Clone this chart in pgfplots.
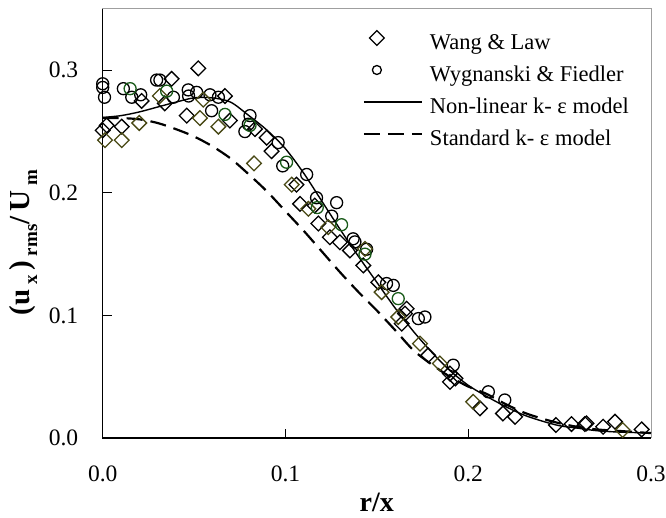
\documentclass[border=0pt]{standalone}
\usepackage{pgfplots}
\pgfplotsset{compat=1.18}
\usepackage{fontspec}
\setmainfont{Liberation Serif}

\definecolor{olivemark}{RGB}{72,72,20}
\definecolor{greenmark}{RGB}{25,90,25}

% lowered index for the axis label
\newcommand{\lowidx}[1]{\raisebox{-0.28em}{\fontsize{19}{21}\selectfont #1}}

% legend images: a mark near the left end, or a line across the full width
\pgfplotsset{
  diamond key/.style={legend image code/.code={\path (0pt,0pt) (58pt,0pt);
      \draw[##1] plot coordinates {(13pt,6pt)};}},
  ring key/.style={legend image code/.code={\path (0pt,0pt) (58pt,0pt);
      \draw[##1, mark size=4.5pt] plot coordinates {(13pt,6pt)};}},
  model key/.style={legend image code/.code={\draw[##1] (0pt,6pt) -- (58pt,6pt);}},
}

\begin{document}
\begin{tikzpicture}
\begin{axis}[
  scale only axis,
  width=548.3pt, height=429pt,
  xmin=0, xmax=0.3, ymin=0, ymax=0.35,
  xtick={0,0.1,0.2,0.3}, ytick={0,0.1,0.2,0.3},
  xtick pos=bottom, ytick pos=left,
  tick align=inside, major tick length=9pt,
  tick style={black, line width=0.8pt},
  axis line style={draw=gray!75, line width=1pt},
  /pgf/number format/.cd, fixed, fixed zerofill, precision=1, assume math mode=true,
  /pgfplots/.cd,
  tick label style={font=\fontsize{23.5}{26}\selectfont},
  xticklabel style={anchor=north, yshift=-24pt},
  yticklabel style={anchor=east, xshift=-21pt},
  xlabel={\bfseries\fontsize{28}{30}\selectfont r/x},
  xlabel style={at={(axis description cs:0.5,-0.15)}, anchor=center},
  ylabel={\bfseries\fontsize{29}{32}\selectfont (u\,\lowidx{x}\,)\,\lowidx{rms}/\,U\,\lowidx{m}},
  ylabel style={at={(axis description cs:-0.145,0.455)}, anchor=center},
  clip=false,
  legend cell align=left,
  legend style={at={(axis description cs:0.474,0.95)}, anchor=north west,
    draw=none, fill=none, inner sep=0pt, row sep=11pt, column sep=7pt,
    font=\fontsize{22.5}{25}\selectfont,
    nodes={inner sep=0pt, text height=16pt, text depth=5pt}},
]

% Wang & Law
\addplot[only marks, mark=square, mark size=5.2pt, black,
  mark options={rotate=45, line width=1.3pt}, diamond key]
  coordinates {
  (0.0523,0.3016) (0.0377,0.293) (0.034,0.273) (0.0213,0.275) (0.0669,0.279)
  (0.046,0.263) (0.0696,0.259) (0.0022,0.255) (0,0.251) (0.0104,0.254)
  (0.0833,0.252) (0.0897,0.245) (0.0924,0.234) (0.106,0.2067) (0.108,0.191)
  (0.118,0.175) (0.116,0.1896) (0.1243,0.1638) (0.1298,0.1597) (0.1353,0.153)
  (0.1426,0.1408) (0.1508,0.127) (0.1663,0.1055) (0.1654,0.1015) (0.1636,0.0933)
  (0.1781,0.0675) (0.19,0.0526) (0.19,0.0458) (0.193,0.0486) (0.2064,0.0242)
  (0.219,0.020) (0.2256,0.0173) (0.248,0.0106) (0.2565,0.0114) (0.2638,0.0114)
  (0.2647,0.012) (0.2738,0.0092) (0.2803,0.0133) (0.2949,0.007)
  };
\addlegendentry{Wang \& Law}

% Wygnanski & Fiedler
\addplot[only marks, mark=o, mark size=6pt, black,
  mark options={line width=1.3pt}, ring key]
  coordinates {
  (0,0.289) (0,0.286) (0.001,0.278) (0.0113,0.285) (0.0159,0.278) (0.0208,0.280)
  (0.0295,0.292) (0.0313,0.292) (0.0387,0.278) (0.0468,0.284) (0.0514,0.282)
  (0.047,0.279) (0.0587,0.280) (0.0633,0.278) (0.0596,0.267) (0.0806,0.263)
  (0.0797,0.256) (0.0778,0.250) (0.096,0.241) (0.0985,0.222) (0.1116,0.215)
  (0.117,0.196) (0.128,0.192) (0.1253,0.181) (0.137,0.1625) (0.138,0.160)
  (0.1444,0.154) (0.1553,0.126) (0.159,0.1245) (0.1727,0.0974) (0.1763,0.0987)
  (0.1918,0.0594) (0.211,0.0377) (0.220,0.031)
  };
\addlegendentry{Wygnanski \& Fiedler}

% second shade of each data set
\addplot[only marks, mark=square, mark size=5.2pt, olivemark,
  mark options={rotate=45, line width=1.3pt}, forget plot]
  coordinates {
  (0.0313,0.279) (0.055,0.276) (0.0532,0.261) (0.0633,0.254) (0.020,0.257)
  (0.0013,0.243) (0.0104,0.243) (0.0828,0.224) (0.1034,0.2067) (0.1125,0.187)
  (0.1234,0.172) (0.1435,0.1543) (0.1526,0.119) (0.1617,0.0987) (0.1736,0.077)
  (0.1845,0.0608) (0.2027,0.0295) (0.2845,0.0065)
  };
\addplot[only marks, mark=o, mark size=6pt, greenmark,
  mark options={line width=1.3pt}, forget plot]
  coordinates {
  (0.015,0.285) (0.035,0.283) (0.0669,0.264) (0.0806,0.255) (0.1006,0.225)
  (0.1174,0.188) (0.1307,0.174) (0.1435,0.150) (0.1617,0.1137)
  };

% Non-linear k-epsilon model
\addplot[black, line width=1.4pt, smooth, model key]
  coordinates {
  (0,0.2615) (0.01,0.263) (0.02,0.266) (0.03,0.270) (0.04,0.274) (0.05,0.2775)
  (0.06,0.2775) (0.07,0.274) (0.08,0.263) (0.09,0.251) (0.10,0.236) (0.11,0.216)
  (0.12,0.193) (0.13,0.170) (0.14,0.148) (0.15,0.127) (0.16,0.106) (0.17,0.087)
  (0.18,0.070) (0.19,0.055) (0.20,0.043) (0.21,0.034) (0.22,0.026) (0.23,0.019)
  (0.24,0.014) (0.25,0.010) (0.26,0.008) (0.27,0.006) (0.28,0.005) (0.29,0.0045)
  (0.30,0.004)
  };
\addlegendentry{Non-linear k- ε model}

% Standard k-epsilon model
\addplot[black, line width=2.2pt, dash pattern=on 16pt off 8pt, smooth, model key]
  coordinates {
  (0,0.261) (0.01,0.261) (0.02,0.260) (0.03,0.257) (0.04,0.252) (0.05,0.246)
  (0.06,0.238) (0.07,0.228) (0.08,0.215) (0.09,0.201) (0.10,0.185) (0.11,0.169)
  (0.12,0.152) (0.13,0.135) (0.14,0.119) (0.15,0.104) (0.16,0.088) (0.17,0.0716)
  (0.18,0.060) (0.19,0.050) (0.20,0.042) (0.21,0.036) (0.22,0.028) (0.23,0.021)
  (0.24,0.016) (0.25,0.012) (0.26,0.009) (0.27,0.007) (0.28,0.006) (0.29,0.005)
  (0.30,0.004)
  };
\addlegendentry{Standard k- ε model}

% left and bottom axis lines in black
\draw[black, line width=1.2pt] (rel axis cs:0,1) -- (rel axis cs:0,0) -- (rel axis cs:1,0);
\end{axis}
\pgfresetboundingbox
\path[use as bounding box] (-102.7pt,-80pt) rectangle (563.3pt,438pt);
\end{tikzpicture}
\end{document}
